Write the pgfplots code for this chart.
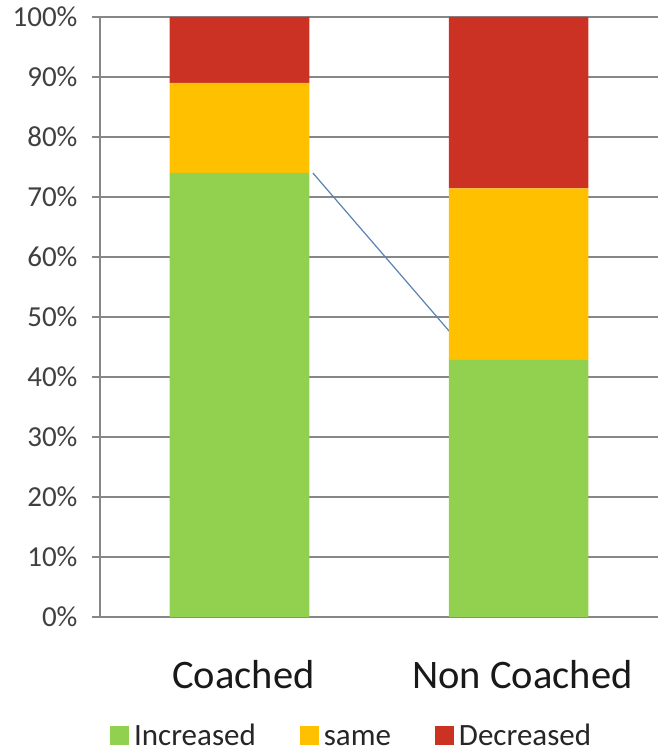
\documentclass[border=0pt]{standalone}
\usepackage{pgfplots}
\pgfplotsset{compat=1.18}
\usepackage{fontspec}
\setmainfont{Carlito}

\definecolor{incgreen}{HTML}{92D050}
\definecolor{sameyellow}{HTML}{FFC000}
\definecolor{decred}{HTML}{CC3224}
\definecolor{gridgray}{HTML}{878787}
\definecolor{labelgray}{HTML}{404040}
\definecolor{linkblue}{HTML}{5A82B0}

\begin{document}
\begin{tikzpicture}
\path[use as bounding box] (-100pt,-135pt) rectangle (558pt,617pt);
\begin{axis}[
  scale only axis,
  width=558pt, height=600pt,
  at={(0pt,0pt)}, anchor=south west,
  ybar stacked,
  bar width=0.5,
  xmin=-0.5, xmax=1.5,
  ymin=0, ymax=100,
  ytick={0,10,...,100},
  yticklabel={\pgfmathprintnumber{\tick}\%},
  /pgf/number format/assume math mode=true,
  yticklabel style={font=\fontsize{29}{32}\selectfont, text=labelgray, anchor=east, xshift=-11pt},
  ymajorgrids,
  major grid style={draw=gridgray, line width=1.1pt},
  axis x line*=bottom, axis y line*=left,
  axis line style={draw=gridgray, line width=1.1pt},
  tick align=outside,
  major tick length=8pt,
  tick style={draw=gridgray, line width=1.1pt},
  xtick={0,1},
  xticklabels={Coached, Non Coached},
  major x tick style={draw=none},
  xticklabel style={font=\fontsize{40.5}{44}\selectfont, text=black!90, anchor=base, yshift=-63pt, xshift=4pt},
  extra x ticks={-0.5,0.5,1.5},
  extra x tick labels={},
  extra x tick style={major tick length=13pt, tick style={draw=gridgray, line width=1.1pt}},
  clip=false,
  legend columns=-1,
  legend style={draw=none, fill=none, at={(0.45,-0.1975)}, anchor=center,
    font=\fontsize{31}{34}\selectfont, text=black!85,
    nodes={text height=21pt, text depth=2pt, inner sep=1pt},
    /tikz/every odd column/.append style={column sep=4pt},
    /tikz/every even column/.append style={column sep=43pt},
    inner sep=0pt},
  legend image code/.code={\fill[#1] (0pt,-9.5pt) rectangle (19pt,9.5pt);},
]
% Increased
\addplot[fill=incgreen, draw=none] coordinates {(0,74) (1,42.86)};
% same
\addplot[fill=sameyellow, draw=none] coordinates {(0,15) (1,28.57)};
% Decreased
\addplot[fill=decred, draw=none] coordinates {(0,11) (1,28.57)};
\legend{Increased, same, Decreased}
% connector between the two "Increased" levels
\draw[linkblue, line width=1.2pt] (axis cs:0.263,74) -- (axis cs:0.797,45.2);
\end{axis}
\end{tikzpicture}
\end{document}
